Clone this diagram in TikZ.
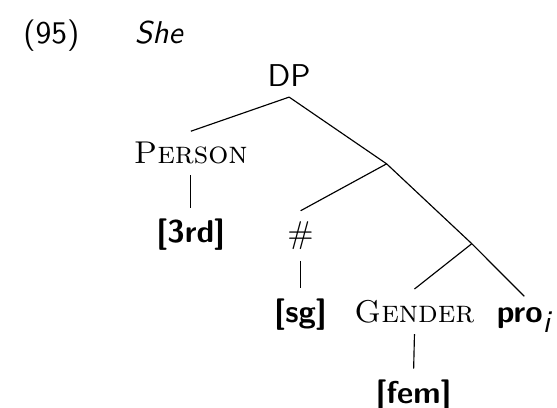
\documentclass[tikz,border=0pt,11pt]{standalone}
\usepackage{fontspec}
\usepackage{tikz}
\usetikzlibrary{calc}
\usetikzlibrary{positioning}
\tikzset{>=latex}
\tikzstyle{cat} = [draw=none, anchor=base]
\tikzstyle{feat} = [draw=none, anchor=base, font=\sffamily\bfseries]

\begin{document}
\begin{tikzpicture}
\useasboundingbox (0, 0) rectangle (6.80, -4.98);
%\node [draw=none, align=center] at (3.4, 0) {example};
\node [draw=none, anchor=base west, font=\sffamily] (ex) at (0.15, -0.525) {(95)};
\node [draw=none, anchor=base west, font=\sffamily\itshape] (she) at (1.51, -0.525) {She};
\node [cat, font=\sffamily] (DP) at (3.53, -1.05) {DP};
\node [cat] (person) at (2.33, -2.00) {\textsc{Person}};
\node [feat] (third) at (2.33, -2.965) {[3rd]};
\coordinate (X) at (4.72, -2.00);
\node [cat] (num) at (3.67, -2.975) {\#};
\node [feat] (sg) at (3.67, -3.935) {[sg]};
\coordinate (Y) at (5.76, -2.975);
\node [cat] (gender) at (5.06, -3.935) {\textsc{Gender}};
\node [feat] (pro) at (6.40, -3.935) {pro$_{\textsf{\itshape\mdseries i}}$};
\node [feat] (fem) at (5.05, -4.925) {[fem]};
\draw (DP.south) to (person.north);
\draw (DP.south) to (X);
\draw (person.south) to (third.north);
\draw (X) to (num.north);
\draw (X) to (Y);
\draw (num.south) to (sg.north);
\draw (Y) to (gender.north);
\draw (Y) to (pro.north);
\draw (gender.south) to (fem.north);
\end{tikzpicture}
\end{document}
